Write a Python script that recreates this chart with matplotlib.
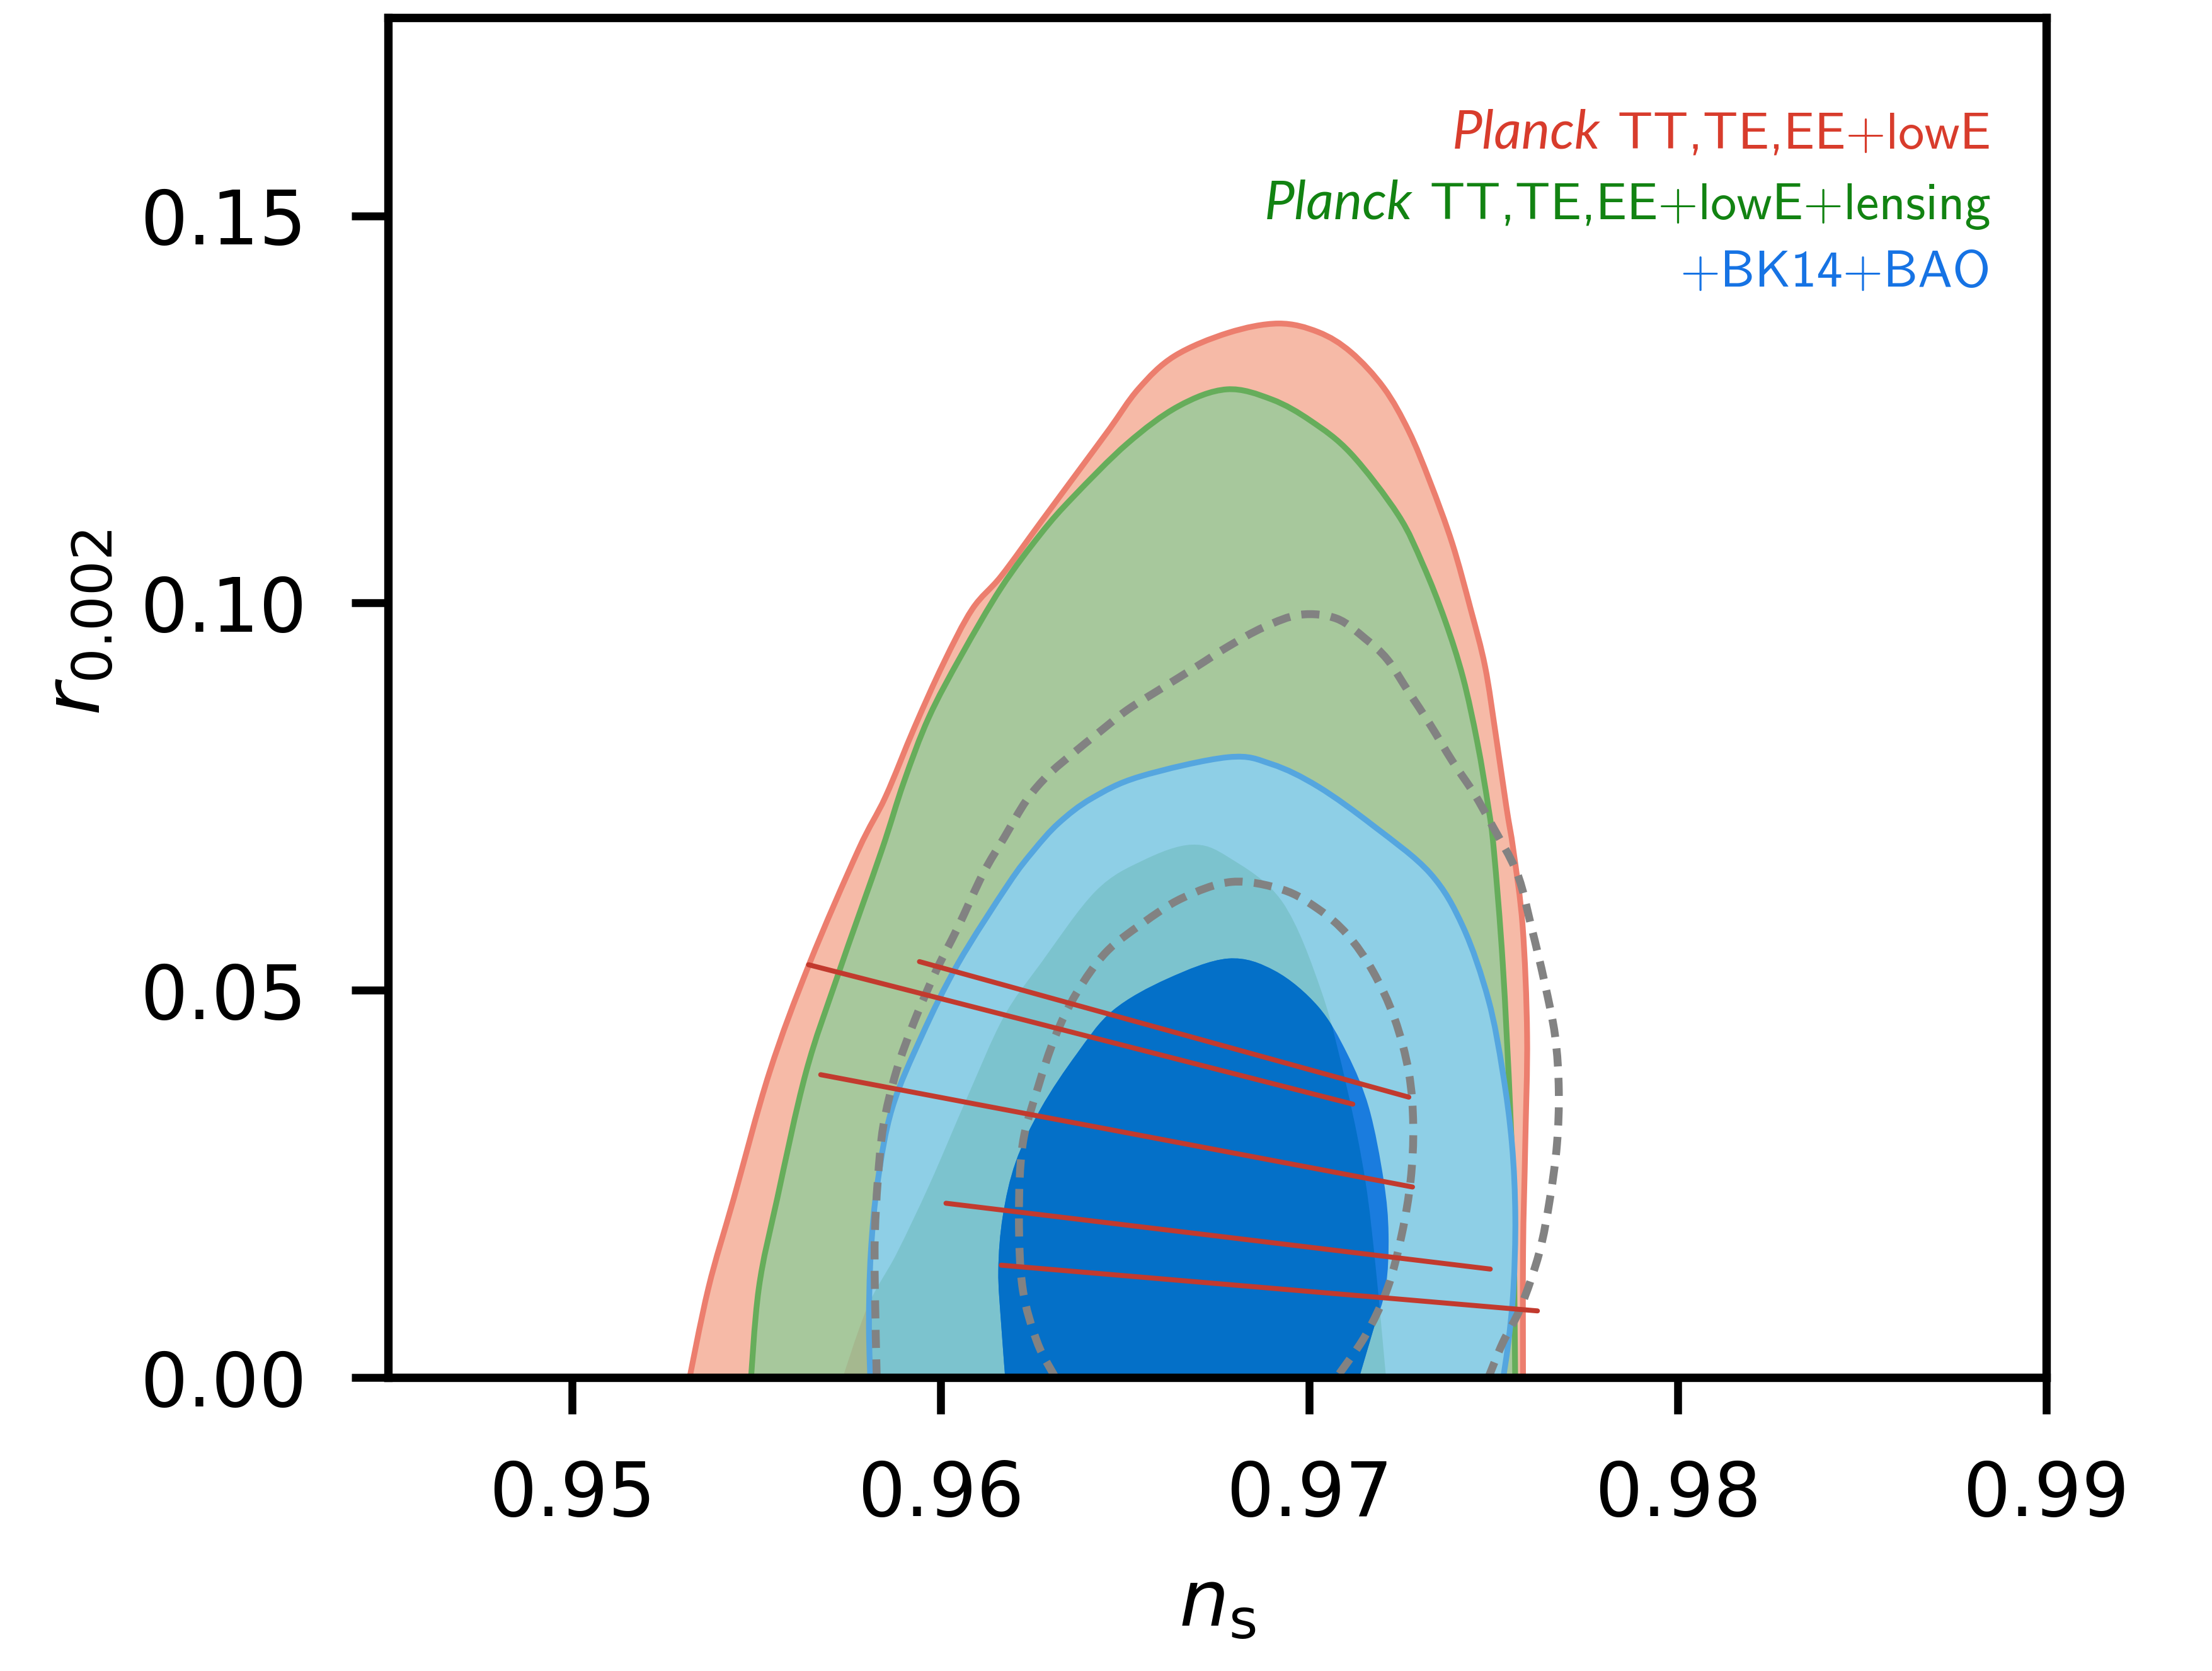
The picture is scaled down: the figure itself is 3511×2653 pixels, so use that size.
import matplotlib
matplotlib.use("Agg")
import matplotlib.pyplot as plt
from matplotlib.patches import PathPatch
from matplotlib.path import Path
import numpy as np

# ---------------- data ----------------
# Planck TT,TE,EE+lowE, 95% region
red95_ns = [0.9531, 0.95369, 0.95438, 0.95535, 0.95643, 0.95776, 0.95850, 0.95928, 0.96007,
            0.96085, 0.96164, 0.96272, 0.96379, 0.96458, 0.96537, 0.96634, 0.96780, 0.96916,
            0.97024, 0.97113, 0.97202, 0.97270, 0.97328, 0.97388, 0.97438, 0.97477, 0.97506,
            0.97535, 0.97554, 0.97579, 0.97591, 0.97586, 0.97580, 0.97580]
red95_r = [-0.002, 0.0115, 0.0231, 0.0394, 0.0534, 0.0681, 0.0750, 0.0839, 0.0922,
           0.0992, 0.1035, 0.1105, 0.1174, 0.1225, 0.1277, 0.1319, 0.1349, 0.1361,
           0.1350, 0.1324, 0.1278, 0.1222, 0.1156, 0.1077, 0.0992, 0.0918, 0.0830,
           0.0736, 0.0680, 0.0582, 0.0442, 0.0301, 0.0161, -0.002]

# Planck TT,TE,EE+lowE+lensing, 95% region
green95_ns = [0.95482, 0.95506, 0.95556, 0.95634, 0.95721, 0.95839, 0.95899, 0.95967, 0.96055,
              0.96164, 0.96272, 0.96359, 0.96506, 0.96644, 0.96776, 0.96898, 0.97005, 0.97113,
              0.97241, 0.97309, 0.97368, 0.97417, 0.97456, 0.97486, 0.97501, 0.97525,
              0.97545, 0.97554, 0.97559]
green95_r = [-0.002, 0.0115, 0.0231, 0.0394, 0.0520, 0.0680, 0.0768, 0.0852, 0.0932,
             0.1020, 0.1090, 0.1137, 0.1206, 0.1254, 0.1276, 0.1263, 0.1235, 0.1193,
             0.1114, 0.1049, 0.0978, 0.0904, 0.0820, 0.0736, 0.0680, 0.0534,
             0.0348, 0.0208, -0.002]

# Planck TT,TE,EE+lowE+lensing, 68% region
green68_ns = [0.9572, 0.9580, 0.9588, 0.9597, 0.9607, 0.9617, 0.9627, 0.9642, 0.9655, 0.9668,
              0.9678, 0.96927, 0.97034, 0.97103, 0.97152, 0.97181, 0.97212]
green68_r = [-0.002, 0.009, 0.016, 0.025, 0.036, 0.0465, 0.0534, 0.0628, 0.0668, 0.0688,
             0.0672, 0.0614, 0.0497, 0.0372, 0.0254, 0.0138, -0.002]

# +BK14+BAO, 95% region
blue95_ns = [0.95810, 0.95805, 0.95810, 0.95829, 0.95868, 0.95948, 0.96046, 0.96183, 0.96251,
             0.96320, 0.96410, 0.96540, 0.96780, 0.96898, 0.97024, 0.97175, 0.97328, 0.97417,
             0.97486, 0.97525, 0.97550, 0.97559, 0.97554, 0.97540, 0.97520]
blue95_r = [-0.002, 0.0067, 0.0161, 0.0254, 0.0348, 0.0441, 0.0534, 0.0637, 0.0680,
            0.0716, 0.0748, 0.0776, 0.0801, 0.0792, 0.0763, 0.0712, 0.0651, 0.0582,
            0.0488, 0.0394, 0.0301, 0.0208, 0.0115, 0.0045, -0.002]

# +BK14+BAO, 68% region
blue68_ns = [0.96178, 0.96164, 0.96156, 0.96168, 0.96203, 0.96272, 0.96369, 0.96467, 0.96615,
             0.96780, 0.96907, 0.97024, 0.97103, 0.97162, 0.97202, 0.97215, 0.97207, 0.97172,
             0.97123]
blue68_r = [-0.002, 0.0067, 0.0138, 0.0208, 0.0278, 0.0348, 0.0418, 0.0474, 0.0515,
            0.0541, 0.0525, 0.0479, 0.0418, 0.0348, 0.0254, 0.0185, 0.0115, 0.0059,
            -0.002]

# grey dashed contours
dash95_ns = [0.95826, 0.95821, 0.95821, 0.95829, 0.95844, 0.95879, 0.95928, 0.95987, 0.96046,
             0.96115, 0.96173, 0.96232, 0.96291, 0.96359, 0.96429, 0.96506, 0.96596, 0.96694,
             0.96780, 0.96877, 0.96976, 0.97074, 0.97152, 0.97212, 0.97270, 0.97328, 0.97388,
             0.97446, 0.97496, 0.97564, 0.97603, 0.97638, 0.97667, 0.97677, 0.97672, 0.97653,
             0.97624, 0.97574, 0.97525, 0.97486]
dash95_r = [0.0, 0.0115, 0.0185, 0.0255, 0.0325, 0.0395, 0.0460, 0.0525, 0.0581,
            0.0651, 0.0698, 0.0745, 0.0778, 0.0806, 0.0833, 0.0862, 0.0889, 0.0918,
            0.0944, 0.0969, 0.0985, 0.0980, 0.0954, 0.0927, 0.0885, 0.0843, 0.0796,
            0.0755, 0.0713, 0.0651, 0.0581, 0.0511, 0.0441, 0.0371, 0.0301, 0.0231,
            0.0161, 0.0091, 0.0045, 0.0]

dash68_ns = [0.96311, 0.96262, 0.96222, 0.96212, 0.96222, 0.96262, 0.96311, 0.96369, 0.96448,
             0.96546, 0.96655, 0.96790, 0.96927, 0.97024, 0.97103, 0.97172, 0.97231, 0.97270,
             0.97282, 0.97275, 0.97251, 0.97212, 0.97152, 0.97074]
dash68_r = [0.0, 0.0045, 0.0115, 0.0208, 0.0301, 0.0372, 0.0441, 0.0497, 0.0549,
            0.0586, 0.0619, 0.0640, 0.0630, 0.0605, 0.0572, 0.0525, 0.0464, 0.0394,
            0.0325, 0.0255, 0.0185, 0.0115, 0.0054, 0.0]

# red model lines (start/end)
line_ns0 = [0.95942, 0.95641, 0.95674, 0.96014, 0.96164]
line_r0 = [0.0537, 0.0533, 0.0391, 0.0225, 0.0145]
line_ns1 = [0.97270, 0.97118, 0.97280, 0.97491, 0.97619]
line_r1 = [0.0362, 0.0353, 0.0246, 0.0140, 0.0086]

x_ticks = [0.95, 0.96, 0.97, 0.98, 0.99]
x_ticklabels = ["0.95", "0.96", "0.97", "0.98", "0.99"]
y_ticks = [0.0, 0.05, 0.10, 0.15]
y_ticklabels = ["0.00", "0.05", "0.10", "0.15"]

legend_main = [" TT,TE,EE+lowE", " TT,TE,EE+lowE+lensing", "+BK14+BAO"]
legend_prefix = ["Planck", "Planck", ""]
legend_colors = ["#D83C2C", "#128312", "#1673E4"]

# ---------------- figure ----------------
plt.rcParams["font.family"] = ["DejaVu Sans"]
plt.rcParams["mathtext.fontset"] = "dejavusans"
plt.rcParams["axes.unicode_minus"] = False

fig = plt.figure(figsize=(3511 / 300, 2653 / 300), dpi=300)
ax = fig.add_axes([0.17545, 0.17565, 0.74964, 0.81380])
ax.set_xlim(0.945, 0.99)
ax.set_ylim(0.0, 0.1756)


def smooth_path(ns, r, closed):
    """Catmull-Rom curve through the given vertices, drawn as cubic Bezier segments."""
    p = np.column_stack([ns, r]).astype(float)
    n = len(p)
    verts = [p[0]]
    codes = [Path.MOVETO]
    for i in range(n - 1):
        p0 = p[i - 1] if i > 0 else p[i]
        p1 = p[i]
        p2 = p[i + 1]
        p3 = p[i + 2] if i + 2 < n else p[i + 1]
        c1 = p1 + (p2 - p0) / 6.0
        c2 = p2 - (p3 - p1) / 6.0
        verts += [c1, c2, p2]
        codes += [Path.CURVE4] * 3
    if closed:
        verts.append(p[0])
        codes.append(Path.CLOSEPOLY)
    return Path(np.array(verts), codes)


def region(ns, r, **kw):
    patch = PathPatch(smooth_path(ns, r, True), **kw)
    ax.add_patch(patch)
    return patch


# red 95
region(red95_ns, red95_r, facecolor="#F6BAA7", edgecolor="#EC7E6E", lw=2.2, zorder=1)
# green 95
region(green95_ns, green95_r, facecolor="#A7C89C", edgecolor="#66AD5B", lw=2.2, zorder=2)
# green 68 (outside blue: olive tint)
region(green68_ns, green68_r, facecolor="#A5B88F", edgecolor="none", zorder=3)
# blue 95
b95 = region(blue95_ns, blue95_r, facecolor="#8ECFE6", edgecolor="none", zorder=4)
# green 68 seen through blue 95 (teal)
g68t = region(green68_ns, green68_r, facecolor="#7CC3CE", edgecolor="none", zorder=5)
g68t.set_clip_path(b95)
# blue 95 edge
region(blue95_ns, blue95_r, facecolor="none", edgecolor="#55A6DF", lw=2.2, zorder=5.5)
# blue 68
b68 = region(blue68_ns, blue68_r, facecolor="#1A7CDE", edgecolor="none", zorder=6)
g68d = region(green68_ns, green68_r, facecolor="#0470C8", edgecolor="none", zorder=7)
g68d.set_clip_path(b68)

# grey dashed contours
for ns, r in [(dash95_ns, dash95_r), (dash68_ns, dash68_r)]:
    pp = PathPatch(smooth_path(ns, r, False), facecolor="none", edgecolor="#828282",
                   lw=3.0, linestyle=(0, (2.3, 1.45)), zorder=8, capstyle="butt")
    ax.add_patch(pp)

# red lines
for i in range(len(line_ns0)):
    ax.plot([line_ns0[i], line_ns1[i]], [line_r0[i], line_r1[i]], color="#C23A2E",
            lw=1.9, zorder=9, solid_capstyle="round")

# axes styling
for s in ax.spines.values():
    s.set_linewidth(3.2)
    s.set_zorder(10)
ax.set_xticks(x_ticks)
ax.set_xticklabels(x_ticklabels)
ax.set_yticks(y_ticks)
ax.set_yticklabels(y_ticklabels)
ax.tick_params(axis="both", direction="out", length=14, width=3.0, pad=17, labelsize=28.5)

ax.set_xlabel(r"$n_{\rm s}$", fontsize=30)
ax.xaxis.label.set_va("baseline")
ax.xaxis.set_label_coords(0.5, -0.183)
ax.set_ylabel(r"$r_{0.002}$", fontsize=30)
ax.yaxis.label.set_va("center")
ax.yaxis.set_label_coords(-0.187, 0.555)

# legend-like labels (right aligned)
fig.canvas.draw()
renderer = fig.canvas.get_renderer()
leg_x = 0.9666
leg_y = [0.904, 0.852, 0.802]
for i in range(3):
    t = ax.text(leg_x, leg_y[i], legend_main[i], transform=ax.transAxes, ha="right",
                va="baseline", fontsize=19.8, family="cmss10", color=legend_colors[i],
                zorder=11)
    if legend_prefix[i]:
        bb = t.get_window_extent(renderer=renderer)
        x0 = ax.transAxes.inverted().transform((bb.x0, bb.y0))[0]
        ax.text(x0, leg_y[i], legend_prefix[i], transform=ax.transAxes, ha="right",
                va="baseline", fontsize=20.5, family="Lato", style="italic",
                color=legend_colors[i], zorder=11)

fig.savefig("out.png", dpi=300)
